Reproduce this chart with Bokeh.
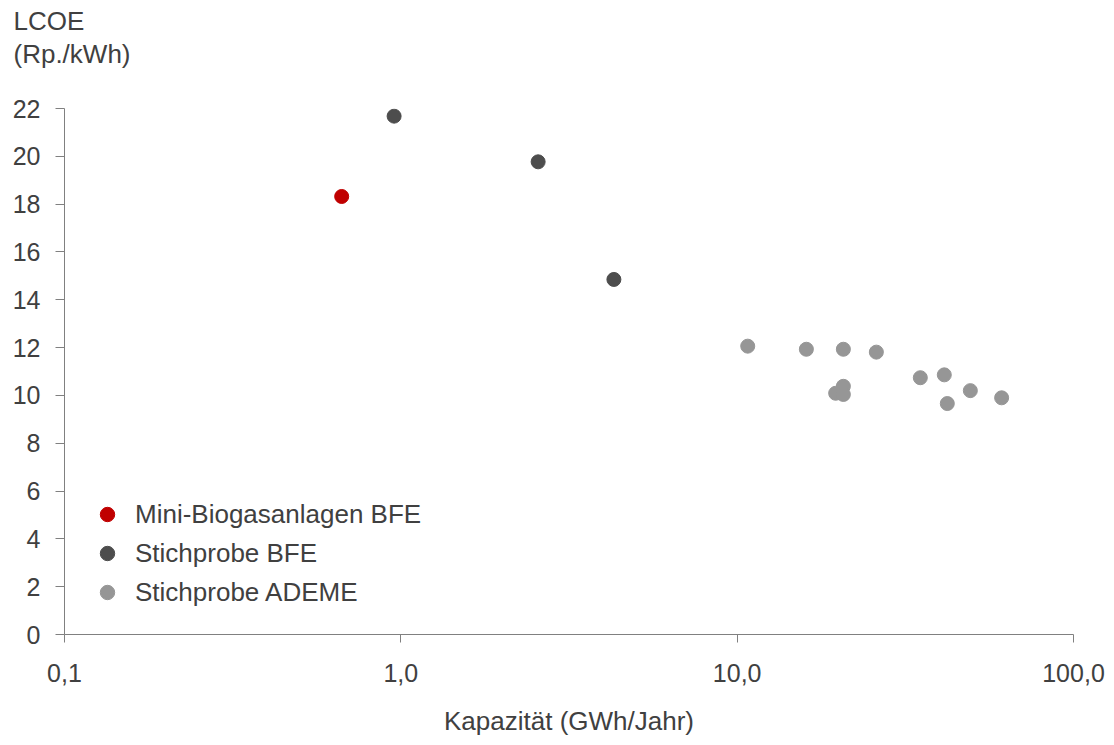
from bokeh.plotting import figure
from bokeh.models import Range1d, FixedTicker, CustomJSTickFormatter, Legend, LegendItem, Title
from bokeh.embed import file_html
from bokeh.resources import INLINE

# Data
mini_x = [0.667]
mini_y = [18.32]
bfe_x = [0.955, 2.56, 4.3]
bfe_y = [21.68, 19.77, 14.85]
ademe_x = [10.75, 16.06, 20.69, 25.93, 35.04, 41.29, 49.35, 61.14, 42.15, 19.63, 20.69, 20.69]
ademe_y = [12.06, 11.93, 11.93, 11.81, 10.74, 10.86, 10.20, 9.90, 9.66, 10.09, 10.38, 10.04]

x_ticks = [0.1, 1, 10, 100]
y_ticks = [0, 2, 4, 6, 8, 10, 12, 14, 16, 18, 20, 22]

names = ["Mini-Biogasanlagen BFE", "Stichprobe BFE", "Stichprobe ADEME"]
colors = ["#c00000", "#4d4d4d", "#969696"]

FONT = "Liberation Sans"
TXT = "#404040"
AX = "#808080"

W, H = 1114, 745
p = figure(width=W, height=H, x_axis_type="log",
           x_range=Range1d(0.1, 100), y_range=Range1d(0, 22),
           output_backend="svg", toolbar_location=None,
           min_border_left=64, min_border_right=41, min_border_top=108, min_border_bottom=111)
p.outline_line_color = None
p.xgrid.visible = False
p.ygrid.visible = False

r1 = p.scatter(mini_x, mini_y, size=14, color=colors[0])
r2 = p.scatter(bfe_x, bfe_y, size=14, color=colors[1])
r3 = p.scatter(ademe_x, ademe_y, size=14, color=colors[2])

xa = p.xaxis[0]
xa.ticker = FixedTicker(ticks=x_ticks, minor_ticks=[])
xa.formatter = CustomJSTickFormatter(code="return tick.toFixed(1).replace('.', ',');")
xa.axis_label = "Kapazität (GWh/Jahr)"
xa.axis_label_text_font = FONT
xa.axis_label_text_font_style = "normal"
xa.axis_label_text_font_size = "26px"
xa.axis_label_text_color = TXT
xa.axis_label_standoff = 21
xa.major_label_text_font = FONT
xa.major_label_text_font_size = "25px"
xa.major_label_text_color = TXT
xa.major_label_standoff = 21
xa.major_tick_in = 0
xa.major_tick_out = 8
xa.minor_tick_in = 0
xa.minor_tick_out = 0
xa.axis_line_color = AX
xa.major_tick_line_color = AX

ya = p.yaxis[0]
ya.ticker = FixedTicker(ticks=y_ticks, minor_ticks=[])
ya.major_label_text_font = FONT
ya.major_label_text_font_size = "25px"
ya.major_label_text_color = TXT
ya.major_label_standoff = 15
ya.major_tick_in = 0
ya.major_tick_out = 9
ya.minor_tick_in = 0
ya.minor_tick_out = 0
ya.axis_line_color = AX
ya.major_tick_line_color = AX

legend = Legend(items=[LegendItem(label=names[0], renderers=[r1]),
                       LegendItem(label=names[1], renderers=[r2]),
                       LegendItem(label=names[2], renderers=[r3])],
                location=(25, 24), border_line_color=None, background_fill_alpha=0,
                label_text_font=FONT, label_text_font_size="26px", label_text_color=TXT,
                glyph_width=36, glyph_height=36, label_height=30, spacing=3, padding=0,
                label_standoff=10, margin=0)
p.add_layout(legend, "center")

p.title.text = "LCOE"
p.title.align = "left"
p.title.offset = -51
p.title.standoff = 0
p.title.text_font = FONT
p.title.text_font_style = "normal"
p.title.text_font_size = "26px"
p.title.text_color = TXT
# spacer between the unit line and the frame (white on white), added first = nearest the frame
p.add_layout(Title(text=".", align="left", offset=900, standoff=36, text_font_size="2px",
                   text_color="#ffffff"), "above")
p.add_layout(Title(text="(Rp./kWh)", align="left", offset=-51, standoff=2, text_font=FONT,
                   text_font_style="normal", text_font_size="26px", text_color=TXT), "above")

open("out.html", "w").write(file_html(p, INLINE))
